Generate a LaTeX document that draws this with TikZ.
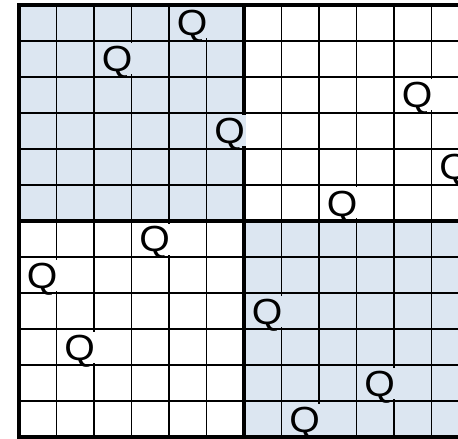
\documentclass[tikz,border=0pt]{standalone}
\usepackage{fontspec}
\setmainfont{Liberation Sans}
\usepackage{xcolor}
\definecolor{cellblue}{RGB}{220,230,241}

\begin{document}
\begin{tikzpicture}[
    x=1.125cm, y=-1.08cm,
    gridline/.style={draw=black, line width=1pt},
    border/.style={draw=black, line width=4pt},
    queen/.style={anchor=base east, inner xsep=0.02cm, inner ysep=0pt, outer sep=0pt,
        text height=0.855cm, text depth=0.075cm, xshift=0.05cm, yshift=0.15cm, xscale=1.08,
        font=\fontsize{31}{31}\selectfont}
]
\useasboundingbox (-0.50667,-0.13889) rectangle (11.70667,12.05556);
\clip (-0.50667,-0.13889) rectangle (11.70667,12.05556);

% Shaded quarters
\fill[cellblue] (0,0) rectangle (6,6);
\fill[cellblue] (6,6) rectangle (12,12);

% Thin cell lines
\foreach \k in {1,...,11} {
    \draw[gridline] (\k,0) -- (\k,12);
    \draw[gridline] (0,\k) -- (12,\k);
}

% Thick lines
\draw[border] (0,0) rectangle (12,12);
\draw[border] (6,0) -- (6,12);
\draw[border] (0,6) -- (12,6);

% Queens
\foreach \r/\c/\bg [count=\n] in {0/4/cellblue, 1/2/cellblue, 2/10/white, 3/5/cellblue,
    4/11/white, 5/8/white, 6/3/white, 7/0/white, 8/6/cellblue, 9/1/white,
    10/9/cellblue, 11/7/cellblue}
    \node[queen, fill=\bg] (q\n) at (\c+1,\r+1) {Q};

\end{tikzpicture}
\end{document}
